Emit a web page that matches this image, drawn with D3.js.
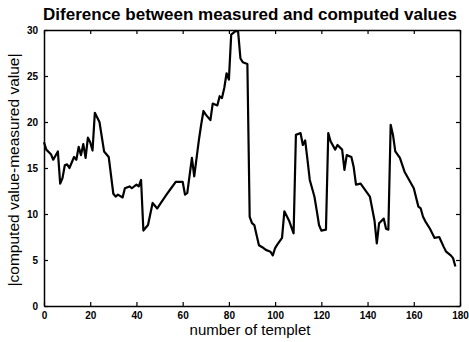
<!DOCTYPE html>
<html>
<head>
<meta charset="utf-8">
<script src="https://cdn.jsdelivr.net/npm/d3@7"></script>
<style>
  body { margin: 0; background: #fff; }
  svg { display: block; }
</style>
</head>
<body>
<svg id="chart" width="469" height="342"></svg>
<script>
// values
var templet = [0, 1, 3, 4, 6, 7, 8, 9, 10, 11, 13, 14, 15, 16, 17, 18, 19, 20, 21, 22,
    24, 26, 28, 30, 31, 32, 34, 35, 37, 38, 40, 41, 42, 43, 45, 47, 49, 50, 53, 55,
    57, 60, 61, 62, 64, 65, 67, 68, 69, 70, 72, 73, 75, 76, 77, 78, 79, 80, 81, 83,
    84, 85, 86, 88, 89, 90, 91, 92, 93, 95, 96, 98, 99, 100, 101, 103, 104, 106, 108, 109,
    111, 112, 113, 114, 115, 117, 118, 119, 120, 122, 123, 124, 126, 127, 129, 130, 131, 133, 134, 135,
    137, 139, 141, 142, 143, 144, 145, 147, 148, 149, 150, 151, 152, 154, 156, 158, 160, 162, 163, 164,
    165, 167, 169, 171, 173, 174, 176, 177, 178];
var diff = [17.8, 17.0, 16.5, 15.9, 16.8, 13.3, 13.9, 15.3, 15.4, 15.0, 16.2, 15.9, 17.3, 16.4, 17.6, 16.1, 18.3, 17.8, 16.9, 21.0,
    20.0, 16.8, 16.2, 12.2, 11.9, 12.1, 11.8, 12.8, 13.0, 12.8, 13.2, 13.0, 13.7, 8.2, 8.8, 11.2, 10.6, 11.0, 12.1, 12.8,
    13.5, 13.5, 12.1, 12.3, 16.1, 14.1, 18.0, 19.7, 21.2, 20.8, 20.2, 22.0, 21.8, 22.8, 22.6, 23.7, 25.3, 24.6, 29.5, 29.9,
    29.8, 26.9, 26.5, 26.3, 9.7, 9.0, 8.8, 7.7, 6.6, 6.3, 6.1, 5.9, 5.5, 6.3, 6.7, 7.4, 10.3, 9.3, 7.9, 18.6,
    18.8, 17.5, 18.0, 15.9, 13.7, 11.9, 10.4, 8.8, 8.2, 8.3, 18.8, 17.9, 17.0, 17.5, 17.0, 14.8, 16.4, 16.2, 15.1, 13.2,
    13.3, 12.6, 11.9, 10.6, 9.3, 6.8, 9.0, 9.5, 8.4, 8.3, 19.7, 18.6, 16.8, 16.1, 14.6, 13.7, 12.8, 10.8, 10.6, 9.7,
    9.2, 8.4, 7.4, 7.5, 6.4, 5.9, 5.5, 5.2, 4.3];
var xTicks = [0, 20, 40, 60, 80, 100, 120, 140, 160, 180];
var yTicks = [0, 5, 10, 15, 20, 25, 30];

var plotLeft = 44, plotRight = 460, plotTop = 30, plotBottom = 306;

var svg = d3.select('#chart');

var x = d3.scaleLinear().domain([0, 180]).range([plotLeft, plotRight]);
var y = d3.scaleLinear().domain([0, 30]).range([plotBottom, plotTop]);

// axes, matlab style: ticks pointing inward on all four sides
var tickFont = 'bold 10px Arial, "Liberation Sans", sans-serif';

var gx = svg.append('g').attr('transform', 'translate(0,' + plotBottom + ')')
    .call(d3.axisBottom(x).tickValues(xTicks).tickSizeInner(-4).tickSizeOuter(0).tickPadding(6));
var gy = svg.append('g').attr('transform', 'translate(' + plotLeft + ',0)')
    .call(d3.axisLeft(y).tickValues(yTicks).tickSizeInner(-4).tickSizeOuter(0).tickPadding(6));
var gt = svg.append('g').attr('transform', 'translate(0,' + plotTop + ')')
    .call(d3.axisTop(x).tickValues(xTicks).tickSizeInner(-4).tickSizeOuter(0).tickFormat(''));
var gr = svg.append('g').attr('transform', 'translate(' + plotRight + ',0)')
    .call(d3.axisRight(y).tickValues(yTicks).tickSizeInner(-4).tickSizeOuter(0).tickFormat(''));

[gx, gy, gt, gr].forEach(function(g) {
    g.selectAll('path').attr('stroke', '#000').attr('stroke-width', 1.5);
    g.selectAll('line').attr('stroke', '#000').attr('stroke-width', 1.2);
    g.selectAll('text').style('font', tickFont).attr('fill', '#000');
});

// the curve
var line = d3.line()
    .x(function(d, i) { return x(templet[i]); })
    .y(function(d) { return y(d); });

svg.append('path')
    .datum(diff)
    .attr('d', line)
    .attr('fill', 'none')
    .attr('stroke', '#000')
    .attr('stroke-width', 2.2)
    .attr('stroke-linejoin', 'round');

// title and labels
svg.append('text')
    .attr('x', 250).attr('y', 20)
    .attr('text-anchor', 'middle')
    .style('font', 'bold 17px Arial, "Liberation Sans", sans-serif')
    .text('Diference between measured and computed values');

svg.append('text')
    .attr('x', 250).attr('y', 335)
    .attr('text-anchor', 'middle')
    .style('font', '15px Arial, "Liberation Sans", sans-serif')
    .text('number of templet');

svg.append('text')
    .attr('transform', 'translate(19,170) rotate(-90)')
    .attr('text-anchor', 'middle')
    .style('font', '15.5px Arial, "Liberation Sans", sans-serif')
    .text('|computed value-measured value|');
</script>
</body>
</html>
